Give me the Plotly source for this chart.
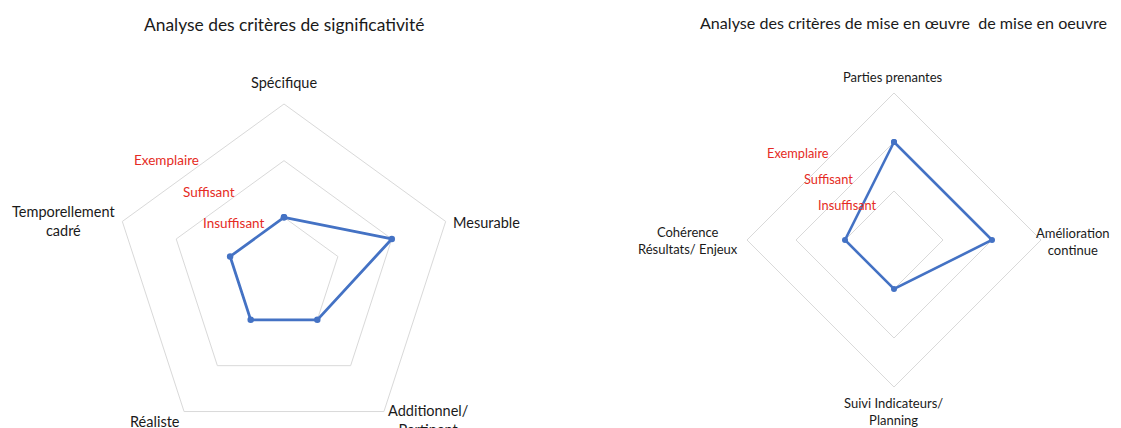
import plotly.graph_objects as go

# ---- data ----
left_title = "Analyse des critères de significativité"
left_categories = ["Spécifique", "Mesurable", "Additionnel/<br>Pertinent", "Réaliste", "Temporellement<br>cadré"]
left_values = [1, 2, 1, 1, 1]

right_title = "Analyse des critères de mise en œuvre  de mise en oeuvre"
right_categories = ["Parties prenantes", "Amélioration<br>continue", "Suivi Indicateurs/<br>Planning", "Cohérence<br>Résultats/ Enjeux"]
right_values = [2, 2, 1, 1]

level_labels = ["Insuffisant", "Suffisant", "Exemplaire"]
level_values = [1, 2, 3]

# ---- style ----
OFF = 8                      # page body margin
W, H = 1113, 440
FONT = "Lato"
LINE = "#4472C4"
GRID = "#d9d9d9"
RED = "#e52b24"
TXT = "#1a1a1a"


def px_x(x):
    return (x - OFF) / W


def px_y(y):
    return 1 - (y - OFF) / H


def closed(vals):
    return list(vals) + [vals[0]]


fig = go.Figure()
fig.add_trace(go.Scatterpolar(
    r=closed(left_values), theta=closed(left_categories), subplot="polar",
    mode="lines+markers", line=dict(color=LINE, width=2.8),
    marker=dict(size=6.5, color=LINE), showlegend=False, cliponaxis=False))
fig.add_trace(go.Scatterpolar(
    r=closed(right_values), theta=closed(right_categories), subplot="polar2",
    mode="lines+markers", line=dict(color=LINE, width=2.6),
    marker=dict(size=6, color=LINE), showlegend=False, cliponaxis=False))


def polar_layout(cx, cy, R, cats):
    return dict(
        domain=dict(x=[px_x(cx - R), px_x(cx + R)], y=[px_y(cy + R), px_y(cy - R)]),
        gridshape="linear",
        bgcolor="white",
        radialaxis=dict(range=[0, 3], tickvals=level_values, showticklabels=False,
                        showline=False, ticks="", gridcolor=GRID, gridwidth=1),
        angularaxis=dict(direction="clockwise", rotation=90, showgrid=False,
                         showline=True, linecolor=GRID, linewidth=1, ticks="",
                         showticklabels=False,
                         categoryorder="array", categoryarray=cats),
    )


def note(text, x, y, size, color=TXT, xanchor="center"):
    return dict(text=text, x=px_x(x), y=px_y(y), xref="paper", yref="paper",
                showarrow=False, xanchor=xanchor, yanchor="middle", align="center",
                font=dict(family=FONT, size=size, color=color))


annotations = [
    note(left_title, 284, 24, 17.4),
    note(right_title, 903, 22, 16.1),
]

# category label positions (page pixels)
left_cat_pos = [(284, 83, "center"), (451, 222, "left"), (428, 420, "center"),
                (155, 421, "center"), (63, 221, "center")]
right_cat_pos = [(893, 77, "center"), (1112, 241, "right"), (893, 411.5, "center"),
                 (688, 240.5, "center")]
for cat, (x, y, xa) in zip(left_categories, left_cat_pos):
    annotations.append(note(cat, x, y, 14.5, xanchor=xa))
for cat, (x, y, xa) in zip(right_categories, right_cat_pos):
    annotations.append(note(cat, x, y, 13.0, xanchor=xa))

left_lbl_pos = [(234, 222.5), (209, 192), (166.5, 160)]
right_lbl_pos = [(847, 205), (828, 179), (798, 153)]
for lbl, (x, y) in zip(level_labels, left_lbl_pos):
    annotations.append(note(lbl, x, y, 13.5, color=RED))
for lbl, (x, y) in zip(level_labels, right_lbl_pos):
    annotations.append(note(lbl, x, y, 12.8, color=RED))

fig.update_layout(
    width=W, height=H,
    margin=dict(l=0, r=0, t=0, b=0),
    paper_bgcolor="white", plot_bgcolor="white",
    font=dict(family=FONT),
    polar=polar_layout(284, 274, 170, left_categories),
    polar2=polar_layout(894, 240, 147, right_categories),
    annotations=annotations,
    showlegend=False,
)

fig.write_html("out.html")
